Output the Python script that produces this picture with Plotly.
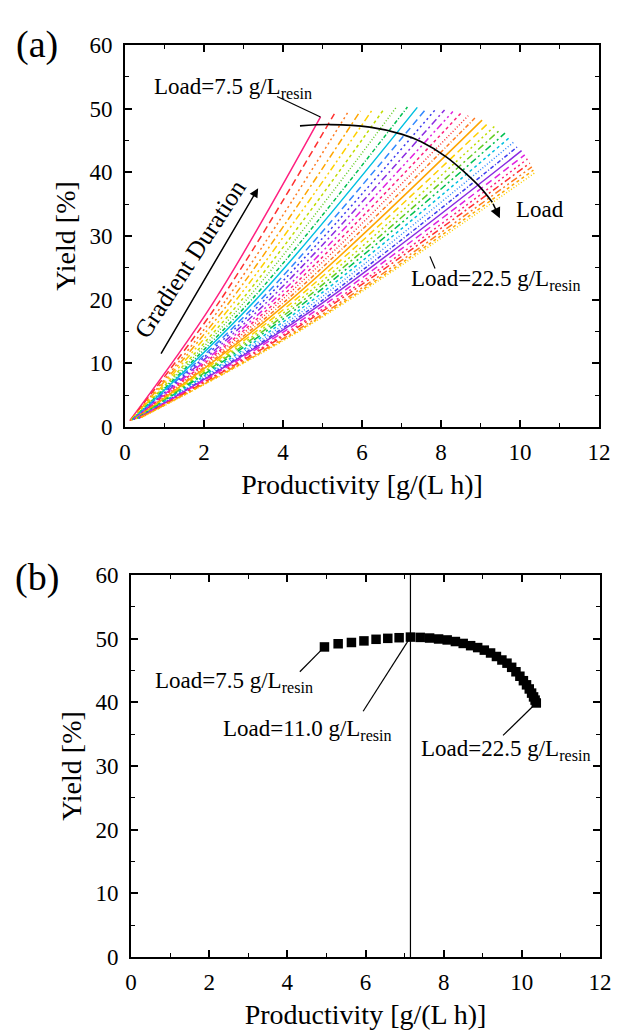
import plotly.graph_objects as go

# ---- data -------------------------------------------------------------
# Resin load (g/L resin) of each simulated case, 7.5 ... 22.5
loads = [7.5, 8.0, 8.5, 9.0, 9.5, 10.0, 10.5, 11.0, 11.5, 12.0, 12.5, 13.0,
         13.5, 14.0, 14.5, 15.0, 15.5, 16.0, 16.5, 17.0, 17.5, 18.0, 18.5,
         19.0, 19.5, 20.0, 20.5, 21.0, 21.5, 22.0, 22.5]

# Best operating point per load (longest gradient)
prod_end = [4.95, 5.30, 5.64, 5.96, 6.27, 6.57, 6.86, 7.15, 7.40, 7.64, 7.87,
            8.09, 8.30, 8.50, 8.69, 8.87, 9.04, 9.20, 9.35, 9.49, 9.62, 9.74,
            9.85, 9.95, 10.04, 10.12, 10.19, 10.25, 10.30, 10.34, 10.37]
yield_end = [48.7, 49.2, 49.4, 49.65, 49.9, 50.05, 50.15, 50.25, 50.2, 50.1,
             49.95, 49.8, 49.55, 49.25, 48.9, 48.6, 48.2, 47.75, 47.2, 46.65,
             46.15, 45.5, 44.8, 44.1, 43.4, 42.75, 42.1, 41.45, 40.85, 40.35,
             39.9]

# Shortest gradient duration per load
prod_start = [0.12, 0.13, 0.14, 0.15, 0.16, 0.17, 0.18, 0.19, 0.20, 0.21,
              0.22, 0.23, 0.24, 0.25, 0.26, 0.27, 0.28, 0.29, 0.30, 0.31,
              0.32, 0.33, 0.34, 0.35, 0.36, 0.37, 0.38, 0.39, 0.40, 0.41, 0.42]
yield_start = [1.0, 1.0, 1.0, 1.1, 1.1, 1.1, 1.1, 1.2, 1.2, 1.2, 1.2, 1.2,
               1.3, 1.3, 1.3, 1.3, 1.3, 1.3, 1.4, 1.4, 1.4, 1.4, 1.4, 1.4,
               1.4, 1.5, 1.5, 1.5, 1.5, 1.5, 1.5]

# Intermediate gradient duration per load
prod_mid = [2.23, 2.39, 2.54, 2.68, 2.82, 2.96, 3.09, 3.22, 3.33, 3.44, 3.54,
            3.64, 3.74, 3.83, 3.91, 3.99, 4.07, 4.14, 4.21, 4.27, 4.33, 4.38,
            4.43, 4.48, 4.52, 4.55, 4.59, 4.61, 4.64, 4.65, 4.67]
yield_mid = [19.5, 19.7, 19.8, 19.9, 20.0, 20.0, 20.1, 20.1, 20.1, 20.0, 20.0,
             19.9, 19.8, 19.7, 19.6, 19.4, 19.3, 19.1, 18.9, 18.7, 18.5, 18.2,
             17.9, 17.6, 17.4, 17.1, 16.8, 16.6, 16.3, 16.1, 16.0]

# Guide arc drawn across the end points ("Load" direction)
arc_x = [4.43, 5.2, 6.2, 7.0, 7.5, 8.14, 8.6, 9.0, 9.3]
arc_y = [47.3, 47.5, 47.1, 46.0, 44.8, 42.4, 40.0, 37.6, 35.3]

x_ticks = [0, 2, 4, 6, 8, 10, 12]
y_ticks = [0, 10, 20, 30, 40, 50, 60]

# ---- styles -----------------------------------------------------------
palette = ['#FF2080', '#FF3030', '#FF7A20', '#FFA500', '#FFD000', '#C0DC00',
           '#60CC20', '#00C050', '#00C0E0', '#3088FF', '#3C3CF0', '#8A2BE2',
           '#E020E0']
dashes = ['solid', '7px,4px', '2px,3px', '7px,3px,2px,3px',
          '7px,3px,2px,3px,2px,3px', '3px,3px', '1px,2px', '4px,2px,1px,2px']

SERIF = 'Liberation Serif, Times New Roman, serif'
W, H = 617, 1032

fig = go.Figure()

# ---- panel (a): yield vs productivity for every load ------------------
for i in range(len(loads)):
    fig.add_trace(go.Scatter(
        x=[prod_start[i], prod_mid[i], prod_end[i]],
        y=[yield_start[i], yield_mid[i], yield_end[i]],
        mode='lines', line_shape='spline',
        line=dict(color=palette[i % len(palette)], width=1.5,
                  dash=dashes[i % len(dashes)]),
        xaxis='x', yaxis='y', showlegend=False, hoverinfo='skip'))

fig.add_trace(go.Scatter(x=arc_x, y=arc_y, mode='lines', line_shape='spline',
                         line=dict(color='black', width=1.6),
                         xaxis='x', yaxis='y', showlegend=False))

# ---- panel (b): optimum per load --------------------------------------
i_opt = loads.index(11.0)
fig.add_trace(go.Scatter(x=[prod_end[i_opt], prod_end[i_opt]], y=[0, 60],
                         mode='lines', line=dict(color='black', width=1.2),
                         xaxis='x2', yaxis='y2', showlegend=False))
fig.add_trace(go.Scatter(x=prod_end, y=yield_end, mode='markers',
                         marker=dict(symbol='square', size=9.5, color='black'),
                         xaxis='x2', yaxis='y2', showlegend=False))

# ---- axes -------------------------------------------------------------
TICKFONT = dict(family=SERIF, size=23, color='black', weight='normal')
TITLEFONT = dict(family=SERIF, size=28, color='black', weight='normal')


def xaxis(domain, anchor):
    return dict(domain=domain, anchor=anchor, range=[0, 12], automargin=False,
                tickvals=x_ticks, ticks='inside', ticklen=7, tickwidth=1.5,
                tickcolor='black', showline=True, linecolor='black',
                linewidth=1.6, mirror='ticks', showgrid=False, zeroline=False,
                minor=dict(dtick=1, ticks='inside', ticklen=4, tickwidth=1.2,
                           tickcolor='black', showgrid=False),
                tickfont=TICKFONT, ticklabelstandoff=4,
                title=dict(text='Productivity [g/(L h)]', standoff=10,
                           font=TITLEFONT))


def yaxis(domain, anchor):
    return dict(domain=domain, anchor=anchor, range=[0, 60], automargin=False,
                tickvals=y_ticks, ticks='inside', ticklen=7, tickwidth=1.5,
                tickcolor='black', showline=True, linecolor='black',
                linewidth=1.6, mirror='ticks', showgrid=False, zeroline=False,
                minor=dict(dtick=5, ticks='inside', ticklen=4, tickwidth=1.2,
                           tickcolor='black', showgrid=False),
                tickfont=TICKFONT, ticklabelstandoff=6,
                title=dict(text='Yield [%]', standoff=6, font=TITLEFONT))


fig.update_layout(
    width=W, height=H, margin=dict(l=0, r=0, t=0, b=0, autoexpand=False),
    paper_bgcolor='white', plot_bgcolor='white', showlegend=False,
    xaxis=xaxis([125 / W, 599 / W], 'y'),
    yaxis=yaxis([1 - 427 / H, 1 - 45 / H], 'x'),
    xaxis2=xaxis([131 / W, 600 / W], 'y2'),
    yaxis2=yaxis([1 - 957 / H, 1 - 575 / H], 'x2'),
)

# ---- annotations ------------------------------------------------------
FONT = dict(family=SERIF, size=23, color='black')
SUB = 'Load=%s g/L<sub>resin</sub>'
ann = []
shapes = []

# panel labels
PANEL_FONT = dict(family=SERIF, size=38, color='black')
ann.append(dict(text='(a)', x=37 / W, y=1 - 45 / H, xref='paper', yref='paper',
                xanchor='center', yanchor='middle', showarrow=False,
                font=PANEL_FONT))
ann.append(dict(text='(b)', x=37 / W, y=1 - 577 / H, xref='paper', yref='paper',
                xanchor='center', yanchor='middle', showarrow=False,
                font=PANEL_FONT))

# panel (a)
ann.append(dict(text=SUB % '7.5', x=0.68, y=53.3, xref='x', yref='y',
                xanchor='left', yanchor='middle', showarrow=False, font=FONT))
shapes.append(dict(type='line', xref='x', yref='y', x0=3.85, y0=51.9,
                   x1=prod_end[0], y1=yield_end[0],
                   line=dict(color='black', width=1.2)))
ann.append(dict(text='Load', x=10.5, y=34.2, xref='x', yref='y',
                showarrow=False, font=FONT))
ann.append(dict(text='', x=9.49, y=32.8, ax=arc_x[-1], ay=arc_y[-1],
                xref='x', yref='y', axref='x', ayref='y', showarrow=True,
                arrowhead=2, arrowsize=1.3, arrowwidth=1.6, arrowcolor='black'))
ann.append(dict(text=SUB % '22.5', x=7.18, y=23.1, xref='x', yref='y',
                xanchor='left', yanchor='middle', showarrow=False, font=FONT))
shapes.append(dict(type='line', xref='x', yref='y', x0=7.72, y0=26.8,
                   x1=7.85, y1=24.9, line=dict(color='black', width=1.2)))
ann.append(dict(text='', x=3.37, y=37.5, ax=0.89, ay=11.3,
                xref='x', yref='y', axref='x', ayref='y', showarrow=True,
                arrowhead=2, arrowsize=1.2, arrowwidth=1.5, arrowcolor='black'))
ann.append(dict(text='Gradient Duration', x=1.66, y=26.4, xref='x', yref='y',
                textangle=-57, showarrow=False,
                font=dict(family=SERIF, size=25, color='black')))

# panel (b)
ann.append(dict(text=SUB % '7.5', x=0.56, y=43.2, xref='x2', yref='y2',
                xanchor='left', yanchor='middle', showarrow=False, font=FONT))
shapes.append(dict(type='line', xref='x2', yref='y2', x0=4.32, y0=44.8,
                   x1=prod_end[0], y1=yield_end[0],
                   line=dict(color='black', width=1.2)))
ann.append(dict(text=SUB % '11.0', x=2.3, y=35.6, xref='x2', yref='y2',
                xanchor='left', yanchor='middle', showarrow=False, font=FONT))
shapes.append(dict(type='line', xref='x2', yref='y2', x0=5.94, y0=38.6,
                   x1=prod_end[i_opt], y1=yield_end[i_opt],
                   line=dict(color='black', width=1.2)))
ann.append(dict(text=SUB % '22.5', x=7.36, y=32.5, xref='x2', yref='y2',
                xanchor='left', yanchor='middle', showarrow=False, font=FONT))
shapes.append(dict(type='line', xref='x2', yref='y2', x0=9.52, y0=34.8,
                   x1=prod_end[-1], y1=yield_end[-1],
                   line=dict(color='black', width=1.2)))

fig.update_layout(annotations=ann, shapes=shapes)

fig.write_html('out.html')
